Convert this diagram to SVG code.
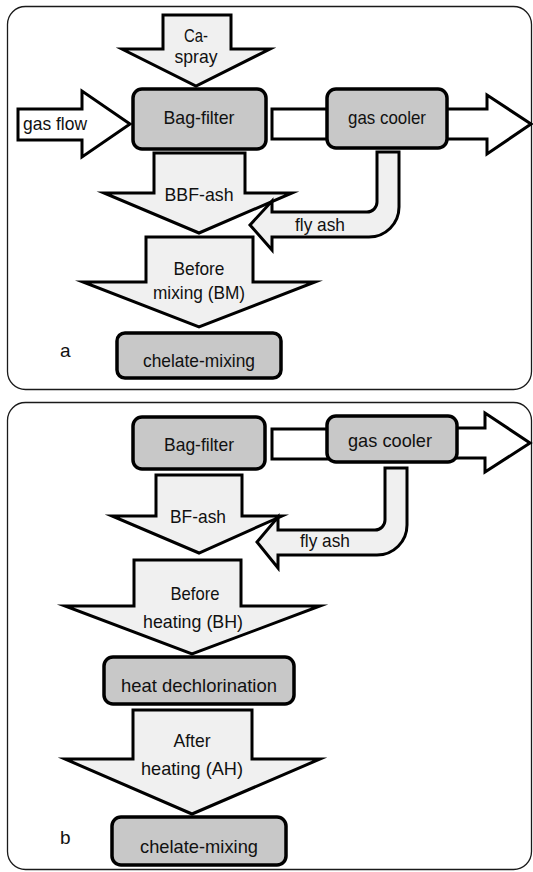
<svg xmlns="http://www.w3.org/2000/svg" width="533" height="872" viewBox="0 0 533 872">
<style>
.frame{fill:none;stroke:#1a1a1a;stroke-width:1.3}
.box{fill:#c8c8c8;stroke:#000;stroke-width:3.5}
.arr{fill:#f0f0f0;stroke:#000;stroke-width:3;stroke-linejoin:miter;stroke-miterlimit:10}
.warr{fill:#fff;stroke:#000;stroke-width:3;stroke-linejoin:miter;stroke-miterlimit:10}
text{font-family:"Liberation Sans",Arial,sans-serif;font-size:19px;fill:#111;text-anchor:middle}
.lbl{text-anchor:start}
</style>
<rect width="533" height="872" fill="#fff"/>
<!-- Panel a -->
<g id="panel-a">
<rect class="frame" x="7.5" y="6.5" width="524" height="383" rx="18"/>
<g id="connectors-a">
<g id="ca-spray">
<polygon class="arr" points="163,15 231,15 231,49 270,49 196,86 122,49 163,49"/>
<text x="196" y="42" textLength="24" lengthAdjust="spacingAndGlyphs">Ca-</text>
<text x="196" y="63" textLength="43" lengthAdjust="spacingAndGlyphs">spray</text>
</g>
<g id="gas-flow">
<polygon class="warr" points="18,109 82,109 82,91 130,124 82,157 82,140 18,140"/>
<text class="lbl" x="23" y="130" textLength="64" lengthAdjust="spacingAndGlyphs">gas flow</text>
</g>
<rect id="link-a" class="warr" x="272" y="109" width="57" height="30"/>
<polygon id="out-a" class="warr" points="445,109 487,109 487,95 531,124 487,154 487,139 445,139"/>
<g id="bbf-ash">
<polygon class="arr" points="154,153 245,153 245,193 292,193 199,233 104,193 154,193"/>
<text x="199" y="201" textLength="69" lengthAdjust="spacingAndGlyphs">BBF-ash</text>
</g>
<g id="before-mixing">
<polygon class="arr" points="146,237 253,237 253,282 315,282 199,327 83,282 146,282"/>
<text x="199" y="275" textLength="51" lengthAdjust="spacingAndGlyphs">Before</text>
<text x="199" y="299" textLength="92" lengthAdjust="spacingAndGlyphs">mixing (BM)</text>
</g>
<g id="fly-ash-a">
<path class="arr" d="M377,152 L399,152 L399,207 A30,30 0 0 1 369,237 L272,237 L272,250 L250,225 L272,201 L272,212 L367,212 A10,10 0 0 0 377,202 Z"/>
<text x="320" y="231" textLength="50" lengthAdjust="spacingAndGlyphs">fly ash</text>
</g>
</g>
<g id="bag-filter-a">
<rect class="box" x="133" y="89" width="133" height="60" rx="9"/>
<text x="199" y="124" textLength="71" lengthAdjust="spacingAndGlyphs">Bag-filter</text>
</g>
<g id="gas-cooler-a">
<rect class="box" x="327" y="89" width="120" height="59" rx="9"/>
<text x="387" y="124" textLength="78" lengthAdjust="spacingAndGlyphs">gas cooler</text>
</g>
<g id="chelate-mixing-a">
<rect class="box" x="117" y="333" width="164" height="45" rx="8"/>
<text x="199" y="367" textLength="112" lengthAdjust="spacingAndGlyphs">chelate-mixing</text>
</g>
<text class="lbl" x="60" y="357">a</text>
</g>
<!-- Panel b -->
<g id="panel-b">
<rect class="frame" x="7.5" y="402.5" width="524" height="467" rx="18"/>
<g id="connectors-b">
<rect id="link-b" class="warr" x="272" y="429" width="57" height="30"/>
<polygon id="out-b" class="warr" points="455,428 485,428 485,413 530,443 485,472 485,458 455,458"/>
<g id="bf-ash">
<polygon class="arr" points="156,475 242,475 242,516 282,516 199,553 112,516 156,516"/>
<text x="198" y="523" textLength="56" lengthAdjust="spacingAndGlyphs">BF-ash</text>
</g>
<g id="before-heating">
<polygon class="arr" points="134,560 241,560 241,606 320,606 192,654 65,606 134,606"/>
<text x="195" y="600" textLength="49" lengthAdjust="spacingAndGlyphs">Before</text>
<text x="193" y="628" textLength="100" lengthAdjust="spacingAndGlyphs">heating (BH)</text>
</g>
<g id="after-heating">
<polygon class="arr" points="133,710 252,710 252,759 320,759 192,814 65,759 133,759"/>
<text x="192" y="747" textLength="37" lengthAdjust="spacingAndGlyphs">After</text>
<text x="192" y="775" textLength="102" lengthAdjust="spacingAndGlyphs">heating (AH)</text>
</g>
<g id="fly-ash-b">
<path class="arr" d="M385,468 L407,468 L407,525 A30,30 0 0 1 377,555 L278,555 L278,568 L257,542 L278,517 L278,530 L375,530 A10,10 0 0 0 385,520 Z"/>
<text x="325" y="547" textLength="50" lengthAdjust="spacingAndGlyphs">fly ash</text>
</g>
</g>
<g id="bag-filter-b">
<rect class="box" x="133" y="417" width="132" height="52" rx="9"/>
<text x="199" y="451" textLength="70" lengthAdjust="spacingAndGlyphs">Bag-filter</text>
</g>
<g id="gas-cooler-b">
<rect class="box" x="327" y="416" width="130" height="46" rx="9"/>
<text x="390" y="447" textLength="84" lengthAdjust="spacingAndGlyphs">gas cooler</text>
</g>
<g id="heat-dechlorination">
<rect class="box" x="104" y="657" width="190" height="47" rx="9"/>
<text x="199" y="692" textLength="156" lengthAdjust="spacingAndGlyphs">heat dechlorination</text>
</g>
<g id="chelate-mixing-b">
<rect class="box" x="112" y="817" width="174" height="48" rx="9"/>
<text x="199" y="853" textLength="118" lengthAdjust="spacingAndGlyphs">chelate-mixing</text>
</g>
<text class="lbl" x="60" y="844">b</text>
</g>
</svg>
